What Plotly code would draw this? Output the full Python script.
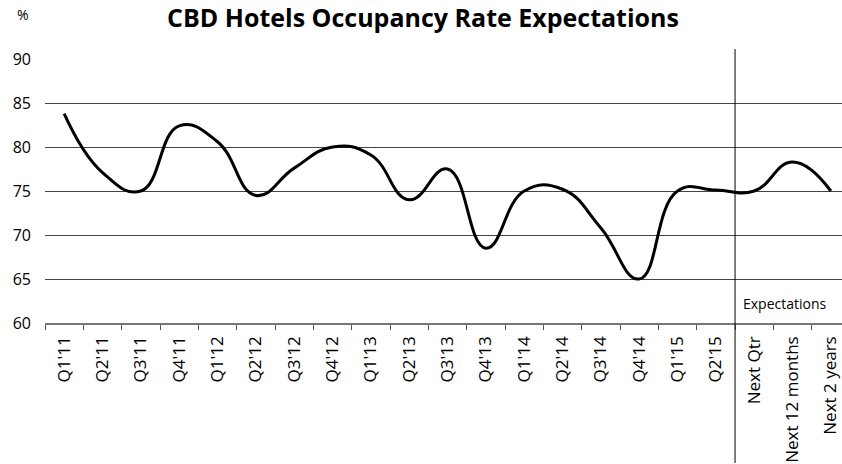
import plotly.graph_objects as go

categories = ["Q1'11", "Q2'11", "Q3'11", "Q4'11", "Q1'12", "Q2'12", "Q3'12", "Q4'12",
              "Q1'13", "Q2'13", "Q3'13", "Q4'13", "Q1'14", "Q2'14", "Q3'14", "Q4'14",
              "Q1'15", "Q2'15", "Next Qtr", "Next 12 months", "Next 2 years"]
occupancy = [83.8, 77.1, 75.0, 82.4, 80.6, 74.5, 77.6, 80.0,
             79.1, 74.0, 77.5, 68.5, 75.0, 75.2, 70.8, 65.0,
             75.0, 75.1, 75.0, 78.3, 75.0]
y_ticks = [60, 65, 70, 75, 80, 85, 90]

FONT = "Open Sans"
W, H = 842, 464

fig = go.Figure()
fig.add_trace(go.Scatter(
    x=categories, y=occupancy, mode="lines",
    line=dict(color="black", width=3, shape="spline", smoothing=1.3),
    hoverinfo="skip", showlegend=False,
))

fig.update_layout(
    width=W, height=H,
    margin=dict(l=45, r=0, t=59, b=141, autoexpand=False),
    paper_bgcolor="white", plot_bgcolor="white",
    font=dict(family=FONT, color="black", size=14),
    title=dict(text="<b>CBD Hotels Occupancy Rate Expectations</b>",
               x=423 / W, xanchor="center", xref="container",
               y=1 - 18 / H, yanchor="middle", yref="container",
               font=dict(family=FONT, size=25, color="black")),
    showlegend=False,
    hovermode=False,
)

fig.update_xaxes(
    type="category", categoryorder="array", categoryarray=categories,
    range=[-0.5, 20.29], automargin=False,
    tickson="boundaries", ticks="outside", ticklen=5, tickcolor="#555555",
    showgrid=False, showline=True, linecolor="#777777", linewidth=1.5,
    tickangle=-90, tickfont=dict(family=FONT, size=17, color="black"),
    ticklabelstandoff=5, zeroline=False,
)
fig.update_yaxes(
    range=[60, 90], tickvals=y_ticks, automargin=False,
    showgrid=True, gridcolor="#444444", gridwidth=1,
    showline=False, zeroline=False, ticks="",
    tickfont=dict(family=FONT, size=16, color="black"),
    ticklabelstandoff=13,
)

# separator between actual quarters and expectations
fig.add_shape(type="line", xref="x", yref="paper",
              x0=17.5, x1=17.5, y0=-0.53, y1=1.038,
              line=dict(color="black", width=1))

fig.add_annotation(text="Expectations", xref="x", yref="y",
                   x=18.8, y=62.2, showarrow=False,
                   xanchor="center", yanchor="middle",
                   font=dict(family=FONT, size=14, color="black"))
fig.add_annotation(text="%", xref="paper", yref="paper",
                   x=-0.028, y=1.17, showarrow=False,
                   xanchor="center", yanchor="middle",
                   font=dict(family=FONT, size=14, color="black"))

# remove the default page margin so the figure fills the window exactly
fig.write_html("out.html",
               config={"displayModeBar": False, "staticPlot": True},
               post_script="document.body.style.margin='0';document.body.style.overflow='hidden';")
